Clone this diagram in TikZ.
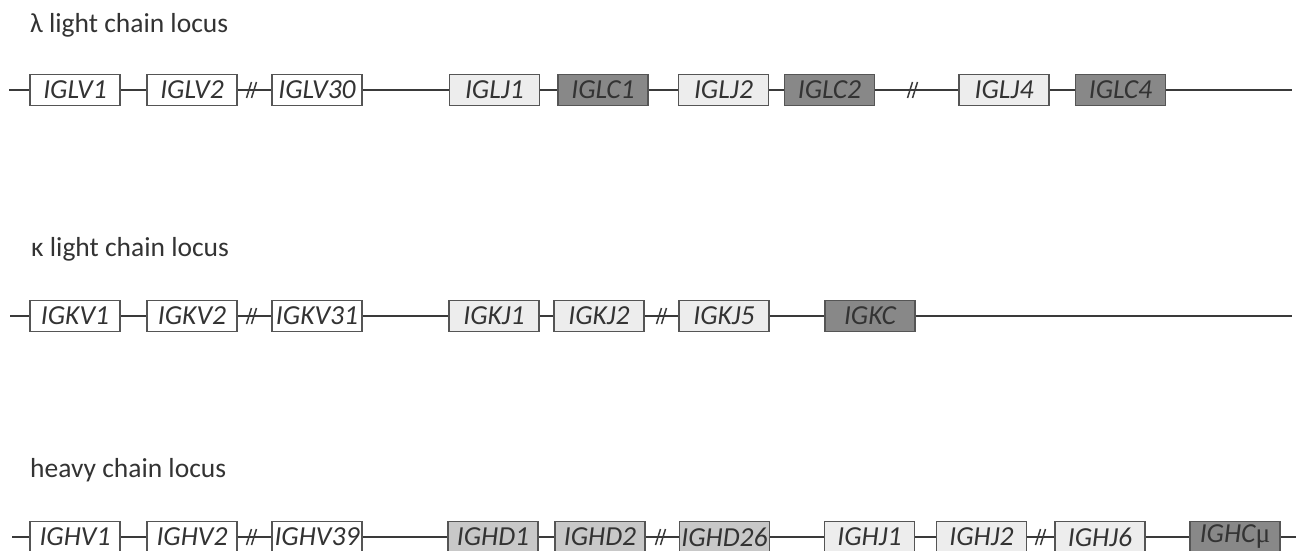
\documentclass[tikz,border=0pt]{standalone}
\usepackage{fontspec}
\setmainfont{Carlito}
\newfontfamily\serifmu{Liberation Serif}
\definecolor{txt}{HTML}{333333}
\definecolor{ln}{HTML}{3A3A3A}
\definecolor{bd}{HTML}{555555}
\definecolor{jfill}{HTML}{EDEDED}
\definecolor{dfill}{HTML}{C8C8C8}
\definecolor{cfill}{HTML}{888888}
\tikzset{
  gene/.style={draw=bd, line width=1.4pt, minimum width=90pt, minimum height=31pt,
    inner sep=0pt, font=\fontsize{27.5}{29}\selectfont\itshape, text=txt},
  vbox/.style={gene, fill=white},
  jbox/.style={gene, fill=jfill},
  dbox/.style={gene, fill=dfill},
  cbox/.style={gene, fill=cfill},
  locus/.style={draw=ln, line width=2.3pt},
  brk/.style={draw=ln, line width=1.5pt},
  ttl/.style={anchor=base west, inner sep=0pt, font=\fontsize{27.5}{30}\selectfont, text=txt}
}
\newcommand{\brkmark}[1]{%
  \draw[brk] ($(#1)+(-5.5,8)$) -- ($(#1)+(-0.5,-8)$);
  \draw[brk] ($(#1)+(-0.5,8)$) -- ($(#1)+(4.5,-8)$);}
\usetikzlibrary{calc}
\begin{document}
\begin{tikzpicture}[x=1pt,y=-1pt]
\useasboundingbox (0,0) rectangle (1296,551);
\clip (0,0) rectangle (1296,551);
% titles
\node[ttl] (t1) at (30,33) {λ light chain locus};
\node[ttl] (t2) at (31,256) {κ light chain locus};
\node[ttl] (t3) at (30,477) {heavy chain locus};
% lambda
\coordinate (ls) at (9,90);
\coordinate (le) at (1292,90);
\node[vbox] (lv1) at (75,90) {IGLV1};
\node[vbox] (lv2) at (192,90) {IGLV2};
\node[vbox] (lv30) at (317,90) {IGLV30};
\node[jbox] (lj1) at (494.5,90) {IGLJ1};
\node[cbox] (lc1) at (603,90) {IGLC1};
\node[jbox] (lj2) at (723.5,90) {IGLJ2};
\node[cbox] (lc2) at (829.5,90) {IGLC2};
\node[jbox] (lj4) at (1004,90) {IGLJ4};
\node[cbox] (lc4) at (1120.5,90) {IGLC4};
\draw[locus] (ls) -- (lv1.west) (lv1.east) -- (lv2.west) (lv2.east) -- (lv30.west)
  (lv30.east) -- (lj1.west) (lj1.east) -- (lc1.west) (lc1.east) -- (lj2.west)
  (lj2.east) -- (lc2.west) (lc2.east) -- (lj4.west) (lj4.east) -- (lc4.west) (lc4.east) -- (le);
\coordinate (lb1) at (252,90);
\coordinate (lb2) at (913,90);
\brkmark{lb1}
\brkmark{lb2}
% kappa
\coordinate (ks) at (10,316);
\coordinate (ke) at (1292,316);
\node[vbox] (kv1) at (75,316) {IGKV1};
\node[vbox] (kv2) at (192,316) {IGKV2};
\node[vbox] (kv31) at (317,316) {IGKV31};
\node[jbox] (kj1) at (494,316) {IGKJ1};
\node[jbox] (kj2) at (599,316) {IGKJ2};
\node[jbox] (kj5) at (724,316) {IGKJ5};
\node[cbox] (kc) at (870,316) {IGKC};
\draw[locus] (ks) -- (kv1.west) (kv1.east) -- (kv2.west) (kv2.east) -- (kv31.west)
  (kv31.east) -- (kj1.west) (kj1.east) -- (kj2.west) (kj2.east) -- (kj5.west)
  (kj5.east) -- (kc.west) (kc.east) -- (ke);
\coordinate (kb1) at (252,316);
\coordinate (kb2) at (662,316);
\brkmark{kb1}
\brkmark{kb2}
% heavy
\coordinate (hs) at (12,537);
\coordinate (he) at (1296,537);
\node[vbox] (hv1) at (75,537) {IGHV1};
\node[vbox] (hv2) at (192,537) {IGHV2};
\node[vbox] (hv39) at (317,537) {IGHV39};
\node[dbox] (hd1) at (493,537) {IGHD1};
\node[dbox] (hd2) at (600,537) {IGHD2};
\node[dbox] (hd26) at (724.5,537) {IGHD26};
\node[jbox] (hj1) at (869.5,537) {IGHJ1};
\node[jbox] (hj2) at (981.5,537) {IGHJ2};
\node[jbox] (hj6) at (1100,537) {IGHJ6};
\node[cbox] (hc) at (1235,537) {IGHC{\upshape\serifmu μ}};
\draw[locus] (hs) -- (hv1.west) (hv1.east) -- (hv2.west) (hv2.east) -- (hv39.west)
  (hv39.east) -- (hd1.west) (hd1.east) -- (hd2.west) (hd2.east) -- (hd26.west)
  (hd26.east) -- (hj1.west) (hj1.east) -- (hj2.west) (hj2.east) -- (hj6.west)
  (hj6.east) -- (hc.west) (hc.east) -- (he);
\coordinate (hb1) at (252,537);
\coordinate (hb2) at (661,537);
\coordinate (hb3) at (1041,537);
\brkmark{hb1}
\brkmark{hb2}
\brkmark{hb3}
\end{tikzpicture}
\end{document}
